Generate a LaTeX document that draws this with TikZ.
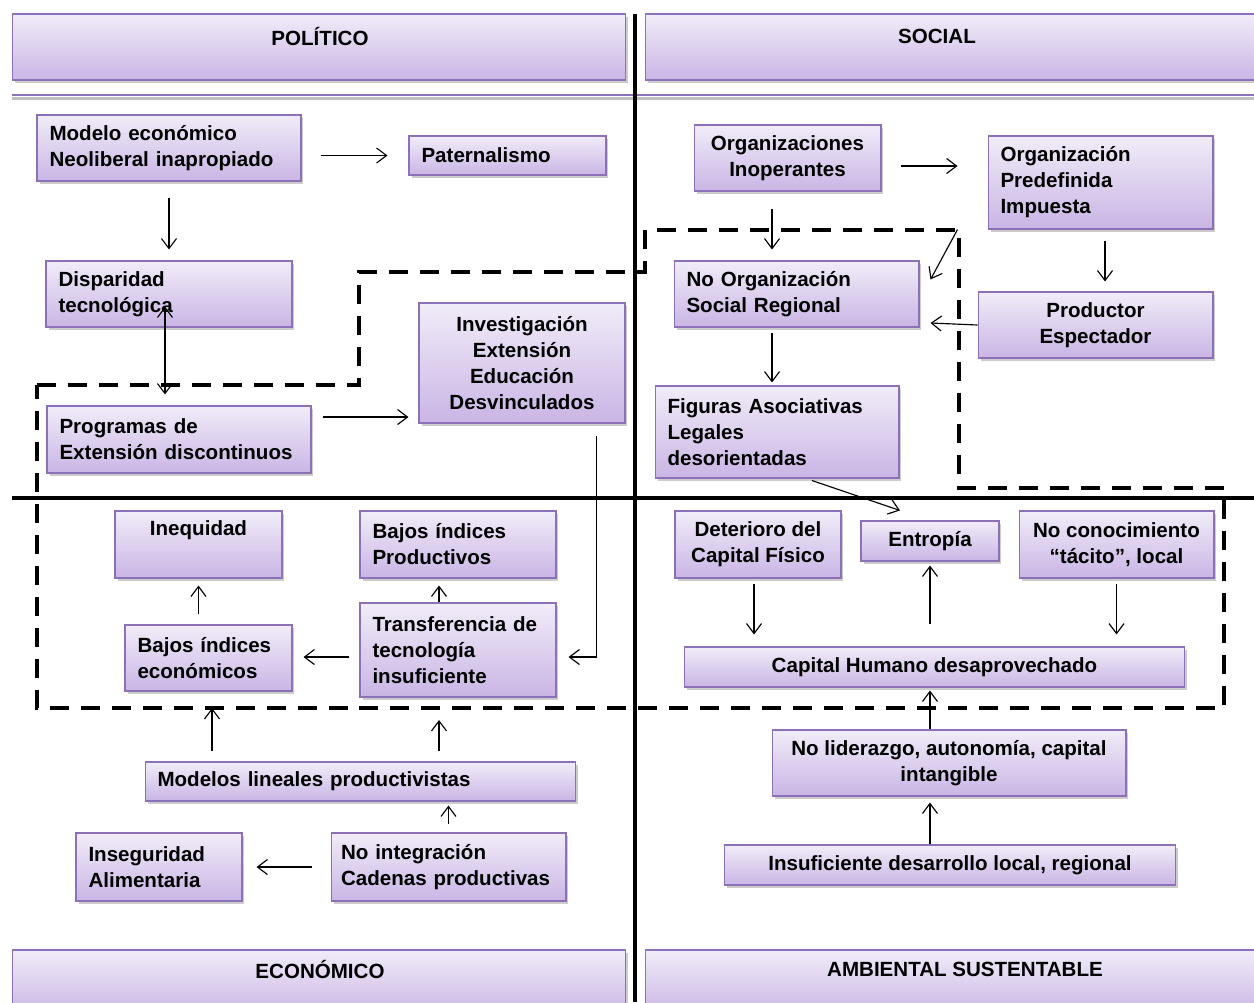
\documentclass[tikz,border=0pt]{standalone}
\usepackage{fontspec}
\setmainfont{Liberation Sans}
\usetikzlibrary{arrows.meta,calc,shadows}
\definecolor{boxtop}{HTML}{F1ECF8}
\definecolor{boxbot}{HTML}{C9B5E5}
\definecolor{boxline}{HTML}{8C70B8}

\begin{document}
\begin{tikzpicture}[x=0.02cm,y=-0.02cm,
    box/.style={draw=boxline, line width=0.6pt, top color=boxtop, bottom color=boxbot,
        inner sep=0pt, font=\bfseries\fontsize{11.7}{14.8}\selectfont,
        drop shadow={shadow xshift=0.05cm, shadow yshift=-0.06cm, opacity=0.4}},
    lbox/.style={box, align=left},
    cbox/.style={box, align=center},
    hdrtext/.style={font=\bfseries\fontsize{11.7}{14.8}\selectfont, inner sep=0pt},
    arr/.style={-{Straight Barb[length=0.2cm,width=0.3cm]}, line width=0.65pt},
    dbl/.style={{Straight Barb[length=0.2cm,width=0.3cm]}-{Straight Barb[length=0.2cm,width=0.3cm]}, line width=0.65pt},
    border/.style={line width=0.07cm, dash pattern=on 0.38cm off 0.24cm}]

    \useasboundingbox (0,0) rectangle (1254,1002);

    % headers
    \node[box, minimum width=12.28cm, minimum height=1.32cm] (pol) at (319,47) {};
    \node[box, minimum width=13.1cm, minimum height=1.32cm] (soc) at (972.5,47) {};
    \node[box, minimum width=12.28cm, minimum height=1.32cm] (eco) at (319,983) {};
    \node[box, minimum width=13.1cm, minimum height=1.32cm] (amb) at (972.5,983) {};
    \node[hdrtext] (poltxt) at (320,36) {POLÍTICO};
    \node[hdrtext] (soctxt) at (937,36) {SOCIAL};
    \node[hdrtext] (ecotxt) at (320,969) {ECONÓMICO};
    \node[hdrtext] (ambtxt) at (965,969) {AMBIENTAL SUSTENTABLE};

    \draw[black!25, line width=0.06cm] (12,98) -- (1300,98);
    \draw[boxline, line width=0.03cm] (12,95) -- (1300,95);

    % politico
    \node[lbox, minimum width=5.28cm, minimum height=1.32cm, text width=4.78cm] (modelo) at (169,148) {Modelo económico\\Neoliberal inapropiado};
    \node[lbox, minimum width=3.94cm, minimum height=0.78cm, text width=3.44cm] (pat) at (507.5,155.5) {Paternalismo};
    \node[lbox, minimum width=4.92cm, minimum height=1.32cm, text width=4.42cm] (disp) at (169,294) {Disparidad\\tecnológica};
    \node[lbox, minimum width=5.28cm, minimum height=1.34cm, text width=4.78cm] (prog) at (179,439.5) {Programas de\\Extensión discontinuos};
    \node[cbox, minimum width=4.12cm, minimum height=2.4cm] (inv) at (522,363) {Investigación\\Extensión\\Educación\\Desvinculados};

    % economico
    \node[cbox, minimum width=3.34cm, minimum height=1.34cm] (ineq) at (198.5,544.5) {Inequidad\\\strut};
    \node[lbox, minimum width=3.92cm, minimum height=1.34cm, text width=3.42cm] (bprod) at (458,544.5) {Bajos índices\\Productivos};
    \node[lbox, minimum width=3.34cm, minimum height=1.32cm, text width=2.84cm] (beco) at (208.5,658) {Bajos índices\\económicos};
    \node[lbox, minimum width=3.92cm, minimum height=1.88cm, text width=3.42cm] (transf) at (458,650) {Transferencia de\\tecnología\\insuficiente};
    \node[lbox, minimum width=8.62cm, minimum height=0.78cm, text width=8.12cm] (modlin) at (360.5,781.5) {Modelos lineales productivistas};
    \node[lbox, minimum width=4.7cm, minimum height=1.36cm, text width=4.3cm] (noint) at (448.5,867) {No integración\\Cadenas productivas};
    \node[lbox, minimum width=3.32cm, minimum height=1.36cm, text width=2.82cm] (insalim) at (159,867) {Inseguridad\\Alimentaria};

    % social
    \node[cbox, minimum width=3.74cm, minimum height=1.32cm] (orgs) at (787.5,158) {Organizaciones\\Inoperantes};
    \node[lbox, minimum width=4.5cm, minimum height=1.86cm, text width=4.0cm] (orgpre) at (1100.5,182.5) {Organización\\Predefinida\\Impuesta};
    \node[lbox, minimum width=4.9cm, minimum height=1.32cm, text width=4.4cm] (noorg) at (796.5,294) {No Organización\\Social Regional};
    \node[cbox, minimum width=4.7cm, minimum height=1.32cm] (prod) at (1095.5,325) {Productor\\Espectador};
    \node[lbox, minimum width=4.88cm, minimum height=1.84cm, text width=4.38cm] (fig) at (777,432) {Figuras Asociativas\\Legales\\desorientadas};

    % ambiental
    \node[cbox, minimum width=3.32cm, minimum height=1.34cm] (det) at (758,544.5) {Deterioro del\\Capital Físico};
    \node[cbox, minimum width=2.76cm, minimum height=0.8cm] (entr) at (930,541) {Entropía};
    \node[cbox, minimum width=3.9cm, minimum height=1.34cm] (noc) at (1116.5,544.5) {No conocimiento\\“tácito”, local};
    \node[cbox, minimum width=10.02cm, minimum height=0.8cm] (cap) at (934.5,667) {Capital Humano desaprovechado};
    \node[cbox, minimum width=7.08cm, minimum height=1.32cm] (nolid) at (949,763) {No liderazgo, autonomía, capital\\intangible};
    \node[cbox, minimum width=9.04cm, minimum height=0.8cm] (insdes) at (950,865) {Insuficiente desarrollo local, regional};

    % cross
    \draw[line width=0.07cm] (635,14) -- (635,1002);
    \draw[line width=0.07cm] (12,498) -- (1254,498);

    \draw[border] (37,385) -- (359,385) -- (359,272) -- (645,272) -- (645,230) -- (959,230)
        -- (959,488) -- (1224,488) -- (1224,708) -- (37,708) -- cycle;

    \draw[arr, shorten <=0.38cm, shorten >=0.42cm] (modelo.east |- pat.west) -- (pat.west);
    \draw[arr, shorten <=0.32cm, shorten >=0.22cm] (modelo.south) -- (disp.north);
    \draw[dbl] ($(disp.south)+(-4,-21)$) -- ($(disp.south |- prog.north)+(-4,-11)$);
    \draw[arr] ($(prog.east)+(11,-22.5)$) -- ($(prog.east -| inv.west)+(-10,-22.5)$);
    \draw[arr] ($(inv.south east)+(-29,12)$) |- ($(transf.east)+(12,7)$);

    \draw[arr, shorten <=0.2cm, shorten >=0.14cm] (ineq.south |- beco.north) -- (ineq.south);
    \draw[arr, shorten >=0.14cm] ($(transf.north)+(-19,0)$) -- ($(bprod.south)+(-19,0)$);
    \draw[arr, shorten <=0.2cm, shorten >=0.22cm] ($(transf.west)+(0,7)$) -- ($(transf.west -| beco.east)+(0,7)$);
    \coordinate (probL) at (212,708);
    \coordinate (probR) at (439,720);
    \draw[arr] ($(modlin.north -| probL)+(0,-10)$) -- (probL);
    \draw[arr] ($(modlin.north -| probR)+(0,-10)$) -- (probR);
    \draw[arr, shorten <=0.16cm, shorten >=0.08cm] (noint.north) -- (noint.north |- modlin.south);
    \draw[arr, shorten <=0.38cm, shorten >=0.28cm] (noint.west) -- (insalim.east);

    \draw[arr, shorten <=0.38cm, shorten >=0.6cm] ($(orgs.east)+(0,8)$) -- ($(orgs.east -| orgpre.west)+(0,8)$);
    \draw[arr] ($(orgs.south)+(-15.5,17)$) -- ($(orgs.south |- noorg.north)+(-15.5,-11)$);
    \draw[arr] ($(orgpre.south west)+(-30,0)$) -- ($(noorg.north east)+(11,19)$);
    \draw[arr] ($(orgpre.south)+(4.5,11)$) -- ($(orgpre.south |- prod.north)+(4.5,-10)$);
    \draw[arr] (prod.west) -- ($(noorg.east |- prod.west)+(11,-2)$);
    \draw[arr] ($(noorg.south)+(-24.5,5)$) -- ($(noorg.south |- fig.north)+(-24.5,-3)$);
    \draw[arr] ($(fig.south)+(35,2)$) -- ($(entr.north)+(-30,-10)$);

    \draw[arr] ($(det.south)+(-4,5)$) -- ($(det.south |- cap.north)+(-4,-12)$);
    \draw[arr] ($(entr.south |- cap.north)+(0,-22)$) -- ($(entr.south)+(0,4)$);
    \draw[arr] ($(noc.south)+(0,5)$) -- ($(noc.south |- cap.north)+(0,-12)$);
    \draw[arr] ($(nolid.north)+(-19,0)$) -- ($(nolid.north |- cap.south)+(-19,3)$);
    \draw[arr] ($(insdes.north)+(-20,0)$) -- ($(insdes.north |- nolid.south)+(-20,6)$);

\end{tikzpicture}
\end{document}
